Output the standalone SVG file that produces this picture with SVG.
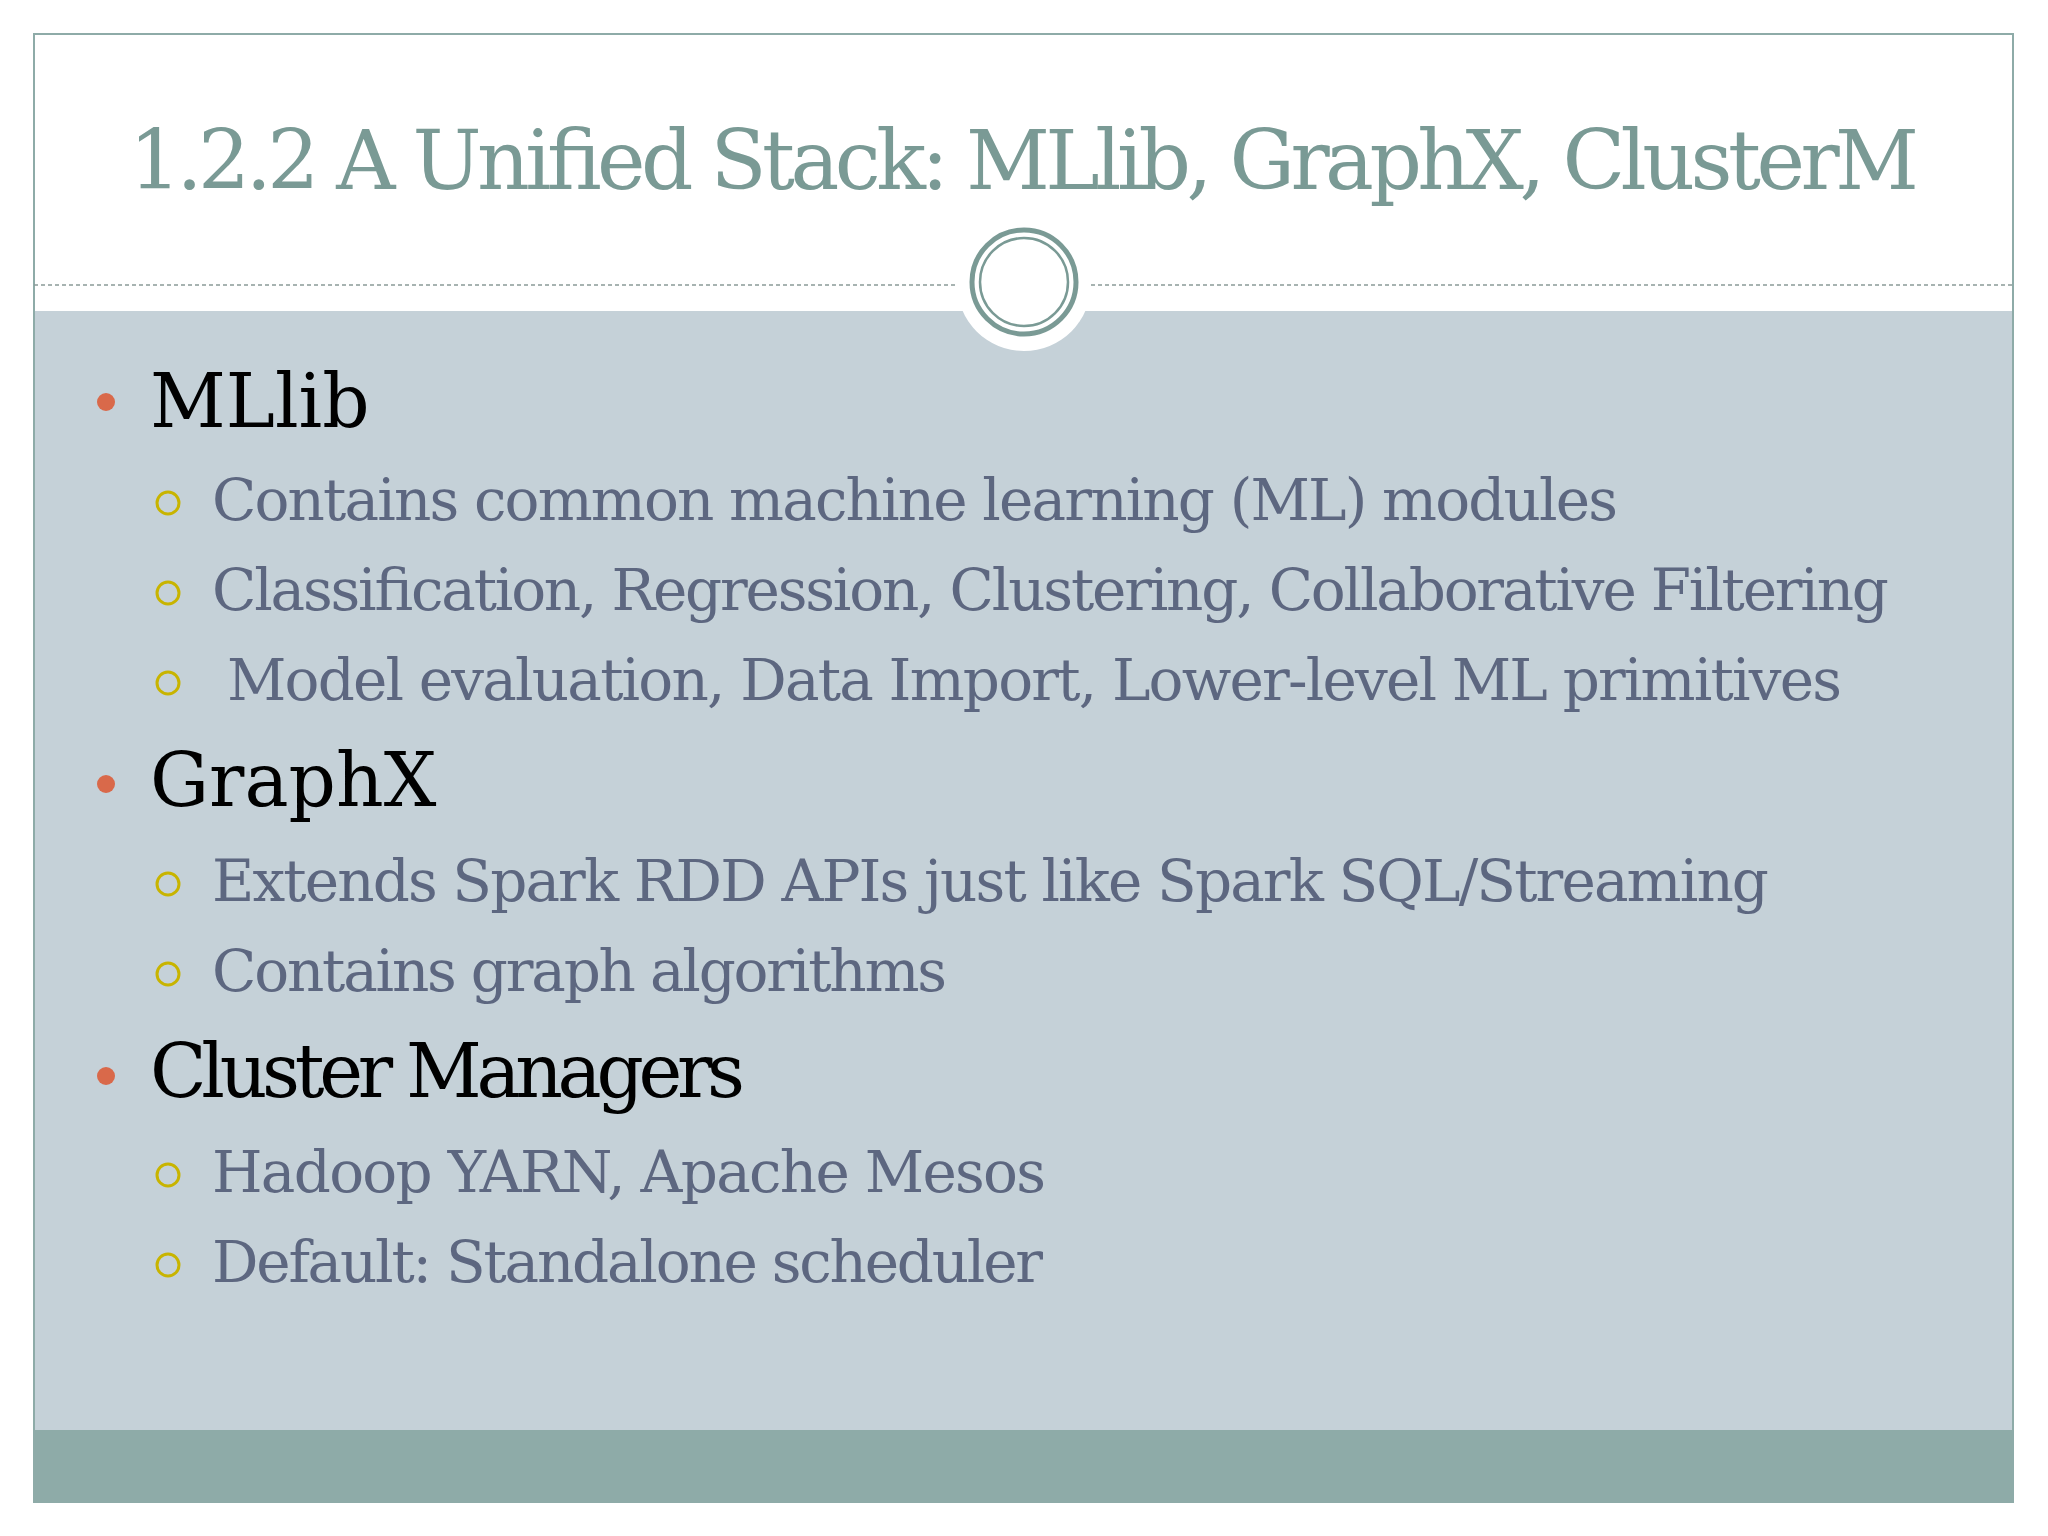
<svg xmlns="http://www.w3.org/2000/svg" width="2048" height="1536" viewBox="0 0 2048 1536">
<style>
.h{font-family:"DejaVu Serif","Liberation Serif",serif;font-size:74px;fill:#000}
.s{font-family:"DejaVu Serif","Liberation Serif",serif;font-size:58px;fill:#5d6780}
.d{fill:#d9694a}
.o{fill:none;stroke:#c8b400;stroke-width:3}
</style>
<rect width="2048" height="1536" fill="#fff"/>
<rect x="34" y="311" width="1979" height="1119" fill="#c5d1d8"/>
<rect x="34" y="1430" width="1979" height="72" fill="#8eaba8"/>
<rect x="34" y="34" width="1979" height="1468" fill="none" stroke="#8eaba8" stroke-width="2"/>
<line x1="34" y1="285" x2="2013" y2="285" stroke="#8a9a98" stroke-width="1.5" stroke-dasharray="4,3"/>
<circle cx="1024" cy="284" r="67" fill="#fff"/>
<circle cx="1024" cy="282" r="52" fill="#fff" stroke="#7a9a95" stroke-width="5"/>
<circle cx="1024" cy="282" r="44" fill="none" stroke="#7a9a95" stroke-width="2.5"/>
<text x="1024" y="189" text-anchor="middle" font-family="DejaVu Serif,serif" font-size="82" fill="#7a9a95" textLength="1790">1.2.2 A Unified Stack: MLlib, GraphX, ClusterM</text>
<g id="mllib">
<circle class="d" cx="106" cy="402" r="9"/><text class="h" x="150" y="427">MLlib</text>
<circle class="o" cx="168" cy="503" r="11"/><text class="s" x="212" y="520" textLength="1406">Contains common machine learning (ML) modules</text>
<circle class="o" cx="168" cy="593" r="11"/><text class="s" x="212" y="610" textLength="1677">Classification, Regression, Clustering, Collaborative Filtering</text>
<circle class="o" cx="168" cy="683" r="11"/><text class="s" x="227" y="700" textLength="1615">Model evaluation, Data Import, Lower-level ML primitives</text>
</g>
<g id="graphx">
<circle class="d" cx="106" cy="784" r="9"/><text class="h" x="150" y="806">GraphX</text>
<circle class="o" cx="168" cy="884" r="11"/><text class="s" x="212" y="901" textLength="1557">Extends Spark RDD APIs just like Spark SQL/Streaming</text>
<circle class="o" cx="168" cy="974" r="11"/><text class="s" x="212" y="991" textLength="735">Contains graph algorithms</text>
</g>
<g id="cluster">
<circle class="d" cx="106" cy="1076" r="9"/><text class="h" x="150" y="1097" textLength="595">Cluster Managers</text>
<circle class="o" cx="168" cy="1175" r="11"/><text class="s" x="212" y="1192" textLength="834">Hadoop YARN, Apache Mesos</text>
<circle class="o" cx="168" cy="1265" r="11"/><text class="s" x="212" y="1282" textLength="831">Default: Standalone scheduler</text>
</g>
<g id="connectors"/>
</svg>
